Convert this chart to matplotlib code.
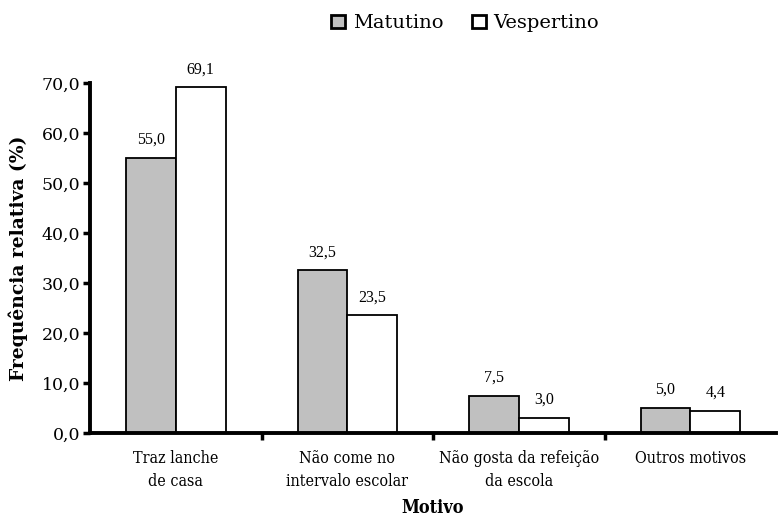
import matplotlib
matplotlib.use("Agg")
import matplotlib.pyplot as plt
from matplotlib.patches import Patch
import numpy as np

categories = ["Traz lanche\nde casa", "Não come no\nintervalo escolar",
              "Não gosta da refeição\nda escola", "Outros motivos"]
matutino = [55.0, 32.5, 7.5, 5.0]
vespertino = [69.1, 23.5, 3.0, 4.4]
series_names = ["Matutino", "Vespertino"]
yticks = [0, 10, 20, 30, 40, 50, 60, 70]

def fmt(v):
    return f"{v:.1f}".replace(".", ",")

fig = plt.figure(figsize=(7.78, 5.18), dpi=100)
ax = fig.add_axes([0.1157, 0.164, 0.882, 0.676])

x = np.arange(len(categories))
w = 0.29
b1 = ax.bar(x - w/2, matutino, w, color="#c0c0c0", edgecolor="black", linewidth=1.3)
b2 = ax.bar(x + w/2, vespertino, w, color="white", edgecolor="black", linewidth=1.3)

for bars, vals in ((b1, matutino), (b2, vespertino)):
    for r, v in zip(bars, vals):
        ax.text(r.get_x() + r.get_width()/2, v + 2.0, fmt(v), ha="center", va="bottom",
                fontsize=11.5, family="Liberation Serif")

ax.set_xlim(-0.5, 3.5)
ax.set_ylim(0, 70)
ax.set_yticks(yticks)
ax.set_yticklabels([fmt(v) for v in yticks], family="DejaVu Serif", fontsize=12.5)
ax.set_xticks([0.5, 1.5, 2.5])
ax.set_xticklabels([])
ax.set_xticks(x, minor=True)
ax.set_xticklabels(categories, minor=True, family="DejaVu Serif", stretch="condensed",
                   fontsize=11.5, linespacing=1.45)
ax.tick_params(axis="x", which="minor", length=0, pad=12)
ax.tick_params(axis="x", which="major", length=5, width=2.5, direction="out")
ax.tick_params(axis="y", length=5, width=2.5, direction="out", pad=2)

for s in ("top", "right"):
    ax.spines[s].set_visible(False)
for s in ("left", "bottom"):
    ax.spines[s].set_linewidth(2.8)

ax.set_ylabel("Frequência relativa (%)", family="DejaVu Serif", fontweight="bold",
              fontsize=13.5, labelpad=10)
ax.set_xlabel("Motivo", family="DejaVu Serif", stretch="condensed", fontweight="bold",
              fontsize=13, labelpad=7)

handles = [Patch(facecolor="#c0c0c0", edgecolor="black", linewidth=2),
           Patch(facecolor="white", edgecolor="black", linewidth=2)]
fig.legend(handles, series_names, loc="center", bbox_to_anchor=(0.598, 0.955), ncol=2,
           frameon=False, prop={"family": "DejaVu Serif", "size": 14},
           handlelength=0.7, handleheight=0.7, handletextpad=0.4, columnspacing=1.5)

fig.savefig("out.png", dpi=100)
